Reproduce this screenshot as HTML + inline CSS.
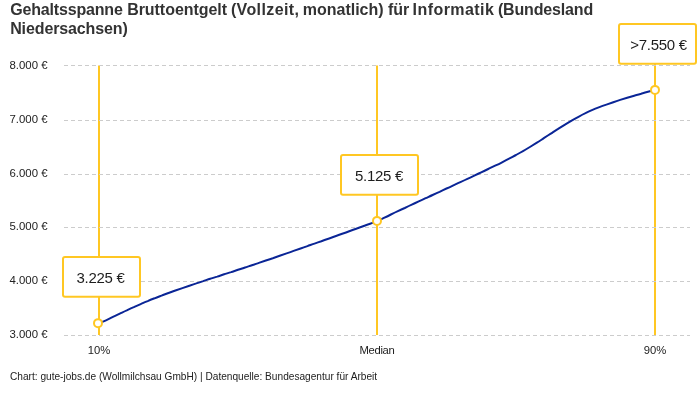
<!DOCTYPE html>
<html><head><meta charset="utf-8"><title>Gehaltsspanne</title>
<style>
html,body{margin:0;padding:0;background:#fff;}
body{width:700px;height:400px;position:relative;overflow:hidden;font-family:"Liberation Sans",sans-serif;color:#222;}
.t{position:absolute;white-space:nowrap;font-weight:bold;font-size:16px;line-height:20px;height:20px;color:#333;}
.yl{position:absolute;left:9.5px;font-size:11.4px;line-height:20px;height:20px;white-space:nowrap;color:#222;}
.xl{position:absolute;font-size:11.25px;line-height:20px;height:20px;width:80px;text-align:center;white-space:nowrap;top:340.1px;color:#1c1c1c;}
.bx{position:absolute;width:79px;text-align:center;font-size:15px;letter-spacing:-0.3px;line-height:20px;height:20px;white-space:nowrap;color:#1d1d1d;}
.ft{position:absolute;left:10px;top:367px;font-size:10.13px;line-height:20px;white-space:nowrap;color:#222;}
svg{position:absolute;left:0;top:0;}
#txt{position:absolute;left:0;top:0;width:700px;height:400px;will-change:transform;}
</style></head><body>
<svg width="700" height="400" viewBox="0 0 700 400">
<g stroke="#ffc723" stroke-width="2">
<line x1="99" x2="99" y1="65.5" y2="335"/>
<line x1="377" x2="377" y1="65.5" y2="335"/>
<line x1="655" x2="655" y1="64" y2="335"/>
</g>
<g stroke="#cccccc" stroke-width="1" stroke-dasharray="4 3" shape-rendering="crispEdges">
<line x1="64" x2="690" y1="65.5" y2="65.5"/>
<line x1="64" x2="690" y1="120.5" y2="120.5"/>
<line x1="64" x2="690" y1="174.5" y2="174.5"/>
<line x1="64" x2="690" y1="227.5" y2="227.5"/>
<line x1="64" x2="690" y1="281.5" y2="281.5"/>
<line x1="64" x2="690" y1="335.5" y2="335.5"/>
</g>
<path d="M98.50,323.40C99.7,322.9 103.5,321.4 106.0,320.3C108.4,319.3 110.6,318.1 112.9,316.9C115.2,315.8 117.5,314.7 119.8,313.6C122.2,312.5 124.5,311.4 126.8,310.4C129.1,309.3 131.4,308.2 133.8,307.2C136.1,306.1 138.4,305.1 140.7,304.1C143.0,303.1 145.3,302.0 147.7,301.1C150.0,300.1 152.3,299.2 154.6,298.3C156.9,297.3 159.2,296.5 161.6,295.6C163.9,294.7 166.2,293.9 168.5,293.0C170.8,292.2 173.1,291.3 175.4,290.5C177.8,289.7 180.1,288.9 182.4,288.1C184.7,287.3 187.0,286.5 189.4,285.7C191.7,284.9 194.0,284.1 196.3,283.4C198.6,282.6 200.9,281.8 203.2,281.1C205.6,280.3 207.9,279.6 210.2,278.8C212.5,278.1 214.8,277.3 217.2,276.6C219.5,275.8 221.8,275.1 224.1,274.3C226.4,273.6 228.7,272.8 231.1,272.1C233.4,271.3 235.7,270.6 238.0,269.8C240.3,269.0 242.6,268.3 245.0,267.5C247.3,266.7 249.6,266.0 251.9,265.2C254.2,264.4 256.5,263.7 258.9,262.9C261.2,262.1 263.5,261.3 265.8,260.5C268.1,259.7 270.4,258.9 272.8,258.2C275.1,257.4 277.4,256.6 279.7,255.8C282.0,255.0 284.3,254.2 286.6,253.4C289.0,252.6 291.3,251.8 293.6,250.9C295.9,250.1 298.2,249.3 300.6,248.5C302.9,247.7 305.2,246.9 307.5,246.1C309.8,245.3 312.1,244.4 314.5,243.6C316.8,242.8 319.1,242.0 321.4,241.2C323.7,240.3 326.0,239.5 328.4,238.7C330.7,237.9 333.0,237.0 335.3,236.2C337.6,235.4 339.9,234.6 342.2,233.7C344.6,232.9 346.9,232.1 349.2,231.2C351.5,230.4 353.8,229.6 356.2,228.7C358.5,227.9 360.8,227.1 363.1,226.2C365.4,225.4 367.7,224.6 370.1,223.7C372.4,222.9 375.8,221.5 377.0,221.1L377.00,221.10C378.2,220.6 381.6,219.0 383.9,217.9C386.3,216.8 388.6,215.7 390.9,214.5C393.2,213.4 395.5,212.3 397.9,211.2C400.2,210.1 402.5,209.0 404.8,208.0C407.1,206.9 409.4,205.8 411.8,204.7C414.1,203.6 416.4,202.5 418.7,201.4C421.0,200.4 423.3,199.3 425.6,198.2C428.0,197.1 430.3,196.1 432.6,195.0C434.9,193.9 437.2,192.8 439.6,191.8C441.9,190.7 444.2,189.6 446.5,188.5C448.8,187.5 451.1,186.4 453.4,185.3C455.8,184.2 458.1,183.2 460.4,182.1C462.7,181.0 465.0,179.9 467.4,178.8C469.7,177.8 472.0,176.7 474.3,175.6C476.6,174.5 478.9,173.4 481.2,172.3C483.6,171.2 485.9,170.1 488.2,169.0C490.5,167.9 492.8,166.8 495.1,165.7C497.5,164.6 499.8,163.5 502.1,162.3C504.4,161.1 506.7,159.9 509.1,158.7C511.4,157.5 513.7,156.2 516.0,155.0C518.3,153.7 520.6,152.4 523.0,151.1C525.3,149.8 527.6,148.4 529.9,147.0C532.2,145.6 534.5,144.2 536.9,142.7C539.2,141.3 541.5,139.7 543.8,138.2C546.1,136.7 548.4,135.2 550.8,133.7C553.1,132.2 555.4,130.6 557.7,129.2C560.0,127.7 562.3,126.2 564.6,124.8C567.0,123.4 569.3,122.0 571.6,120.6C573.9,119.3 576.2,118.0 578.5,116.8C580.9,115.5 583.2,114.3 585.5,113.2C587.8,112.0 590.1,110.9 592.5,109.9C594.8,108.9 597.1,108.0 599.4,107.1C601.7,106.2 604.0,105.4 606.4,104.6C608.7,103.8 611.0,103.0 613.3,102.2C615.6,101.4 617.9,100.6 620.2,99.9C622.6,99.2 624.9,98.5 627.2,97.8C629.5,97.1 631.8,96.4 634.2,95.7C636.5,95.1 638.8,94.4 641.1,93.8C643.4,93.1 645.7,92.4 648.0,91.8C650.4,91.2 653.8,90.2 655.0,89.9" fill="none" stroke="#0a2596" stroke-width="2" stroke-linecap="round" stroke-linejoin="round"/>
<g fill="#fff" stroke="#ffc723" stroke-width="2">
<circle cx="98" cy="323.15" r="4"/>
<circle cx="377" cy="220.9" r="4"/>
<circle cx="655" cy="89.9" r="4"/>
<rect x="63" y="257" width="77" height="39.7" rx="2"/>
<rect x="341" y="155" width="77" height="39.7" rx="2"/>
<rect x="619" y="24.1" width="77" height="39.7" rx="2"/>
</g>
</svg>
<div id="txt">
<div class="t" style="top:-0.4px;left:10.20px;letter-spacing:-0.169px">Gehaltsspanne</div>
<div class="t" style="top:-0.4px;left:127.20px;letter-spacing:-0.049px">Bruttoentgelt</div>
<div class="t" style="top:-0.4px;left:230.90px;letter-spacing:0.381px">(Vollzeit,</div>
<div class="t" style="top:-0.4px;left:302.80px;letter-spacing:-0.009px">monatlich)</div>
<div class="t" style="top:-0.4px;left:388.10px;letter-spacing:-0.143px">für</div>
<div class="t" style="top:-0.4px;left:412.60px;letter-spacing:0.436px">Informatik</div>
<div class="t" style="top:-0.4px;left:497.90px;letter-spacing:-0.163px">(Bundesland</div>
<div class="t" style="top:18.6px;left:10.20px;letter-spacing:-0.119px">Niedersachsen)</div>
<div class="yl" style="top:55px">8.000 €</div>
<div class="yl" style="top:109px">7.000 €</div>
<div class="yl" style="top:163px">6.000 €</div>
<div class="yl" style="top:216px">5.000 €</div>
<div class="yl" style="top:270px">4.000 €</div>
<div class="yl" style="top:324px">3.000 €</div>
<div class="xl" style="left:59px">10%</div>
<div class="xl" style="left:337px;letter-spacing:-0.35px">Median</div>
<div class="xl" style="left:615px">90%</div>
<div class="bx" style="left:61px;top:267.8px">3.225 €</div>
<div class="bx" style="left:339.5px;top:165.8px">5.125 €</div>
<div class="bx" style="left:619px;top:34.8px">&gt;7.550 €</div>
<div class="ft">Chart: gute-jobs.de (Wollmilchsau GmbH) | Datenquelle: Bundesagentur für Arbeit</div>
</div>
</body></html>
